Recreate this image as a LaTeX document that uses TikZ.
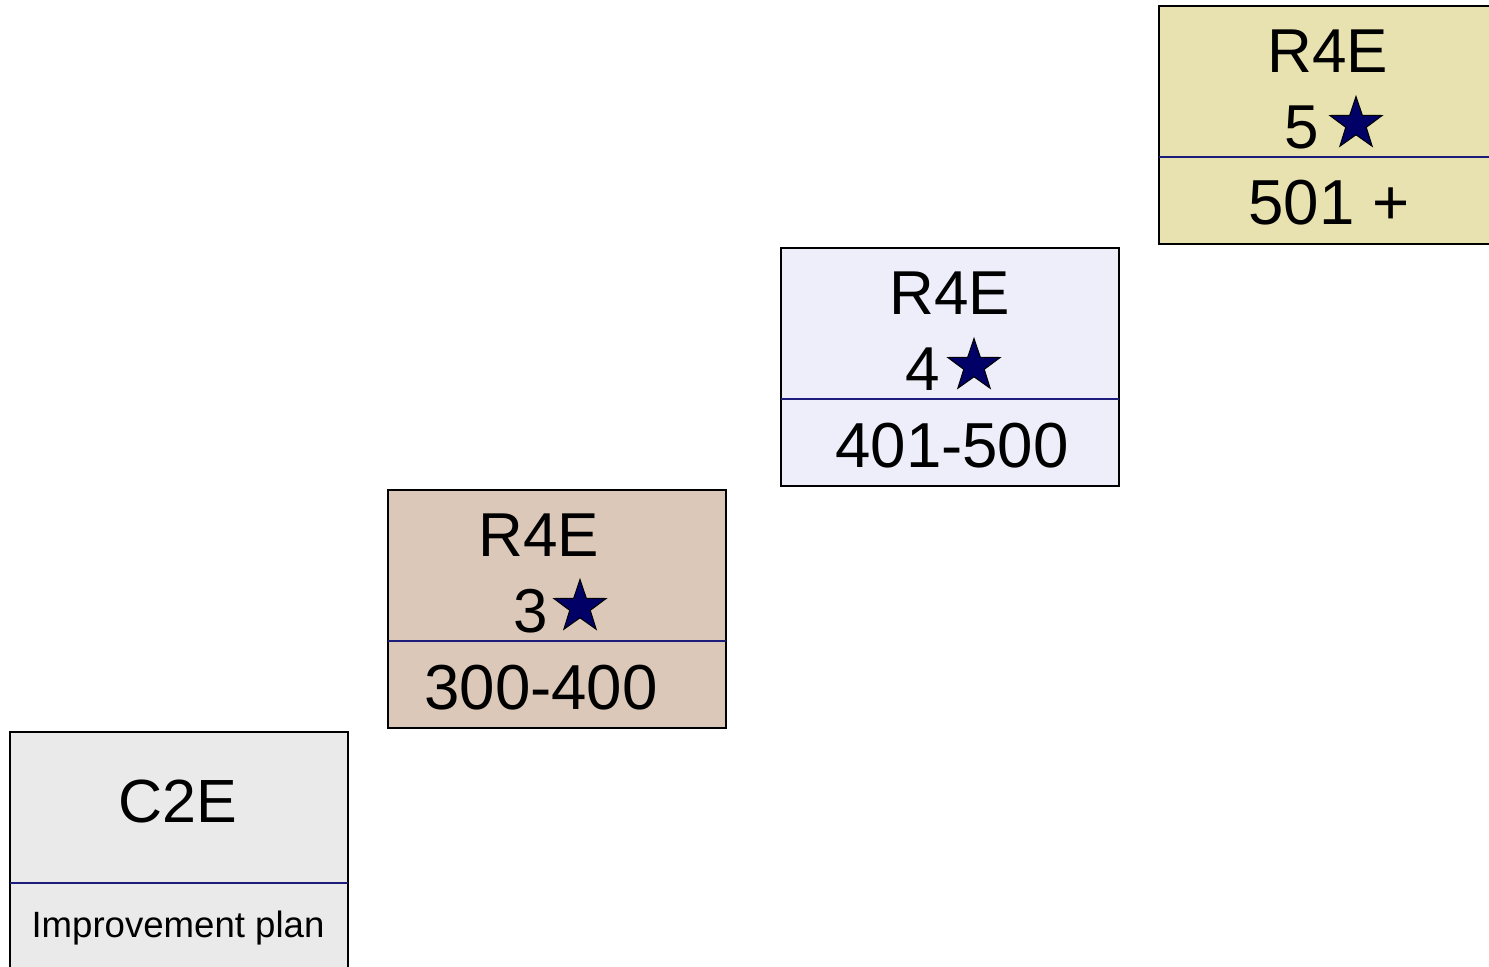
\documentclass[tikz,border=0pt]{standalone}
\usepackage{fontspec}
\setmainfont{Liberation Sans}
\usetikzlibrary{shapes.geometric}
\definecolor{c2efill}{HTML}{EAEAEA}
\definecolor{rthreefill}{HTML}{DBC8B9}
\definecolor{rfourfill}{HTML}{EEEEFA}
\definecolor{rfivefill}{HTML}{E8E1B0}
\definecolor{divline}{HTML}{1C1C7A}
\definecolor{starnavy}{HTML}{000066}
\begin{document}
\begin{tikzpicture}[x=0.5pt,y=-0.5pt,
  box/.style={draw=black, line width=0.75pt, minimum width=169pt, minimum height=119pt, inner sep=0pt, outer sep=0pt},
  divider/.style={draw=divline, line width=0.9pt},
  bigtxt/.style={anchor=base, inner sep=0pt, font=\fontsize{31}{31}\selectfont},
  numtxt/.style={anchor=base, inner sep=0pt, font=\fontsize{31.8}{31.8}\selectfont},
  smalltxt/.style={anchor=base, inner sep=0pt, font=\fontsize{18.3}{18.3}\selectfont},
  starmark/.style={star, star points=5, star point ratio=2.55, minimum size=27.5pt, inner sep=0pt, fill=starnavy, draw=black, line width=0.5pt}]
\useasboundingbox (0,0) rectangle (1489,966);
\clip (0,0) rectangle (1489,966);
% boxes
\node[box, fill=rfivefill] (b5) at (1328,125) {};
\node[box, fill=rfourfill] (b4) at (950,367) {};
\node[box, fill=rthreefill] (b3) at (557,609) {};
\node[box, fill=c2efill] (b2) at (179,851) {};
% dividers
\draw[divider] (b5.west |- 0,157) -- (b5.east |- 0,157);
\draw[divider] (b4.west |- 0,399) -- (b4.east |- 0,399);
\draw[divider] (b3.west |- 0,641) -- (b3.east |- 0,641);
\draw[divider] (b2.west |- 0,883) -- (b2.east |- 0,883);
% box 5
\node[bigtxt] (t5a) at (1328,72) {R4E};
\node[bigtxt] (t5b) at (1302,148) {5};
\node[starmark] (s5) at (1356,124) {};
\node[numtxt] (t5c) at (1329,224) {501 +};
% box 4
\node[bigtxt] (t4a) at (950,314) {R4E};
\node[bigtxt] (t4b) at (923,390) {4};
\node[starmark] (s4) at (974,366) {};
\node[numtxt] (t4c) at (952,467) {401-500};
% box 3
\node[bigtxt] (t3a) at (539,556) {R4E};
\node[bigtxt] (t3b) at (531,632) {3};
\node[starmark] (s3) at (580,607) {};
\node[numtxt] (t3c) at (541,709) {300-400};
% box C2E
\node[bigtxt, font=\fontsize{30.5}{30.5}\selectfont] (t2a) at (178,822) {C2E};
\node[smalltxt] (t2b) at (178,937) {Improvement plan};
\end{tikzpicture}
\end{document}
